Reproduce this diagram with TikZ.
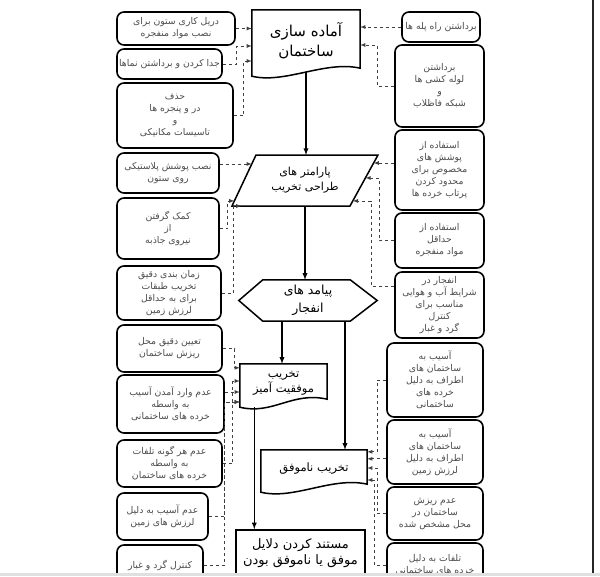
\documentclass[tikz,border=0pt]{standalone}
\usepackage{fontspec}
\usetikzlibrary{calc}
\newfontfamily\arabicfont[Script=Arabic]{DejaVu Sans}
\TeXXeTstate=1
\newcommand{\fa}[1]{\beginR #1\endR}
\newcommand{\docoutline}[1]{%
  \draw[frame] (#1.north west) -- (#1.north east) -- ([yshift=4]#1.south east)
    .. controls ([xshift=-35,yshift=12]#1.south east) and ([xshift=33,yshift=-12]#1.south west)
    .. ([yshift=-4]#1.south west) -- cycle;}
\tikzset{
  frame/.style={line width=1.5pt},
  box/.style={draw, line width=1.6pt, rounded corners=7pt, align=center, text=black!70,
    inner sep=1pt, font=\arabicfont\fontsize{9.3}{12}\selectfont},
  title/.style={align=center, inner sep=1pt, font=\arabicfont\fontsize{11}{15}\selectfont},
  flow/.style={->, line width=1.3pt},
  dep/.style={->, dashed, line width=0.8pt, black!75}
}

\begin{document}
\begin{tikzpicture}[x=1pt,y=-1pt,>=latex]
\useasboundingbox (0,0) rectangle (600,576);
\begin{scope}
\clip (0,0) rectangle (600,573);
% left column
\node[box, minimum width=118, minimum height=33] (L1) at (176,28.5) {\fa{دریل کاری ستون برای}\\\fa{نصب مواد منفجره}};
\node[box, minimum width=105, minimum height=30] (L2) at (169.5,64) {\fa{جدا کردن و برداشتن نماها}};
\node[box, minimum width=116, minimum height=65] (L3) at (175,115.5) {\fa{حذف}\\\fa{در و پنجره ها}\\\fa{و}\\\fa{تاسیسات مکانیکی}};
\node[box, minimum width=102, minimum height=40] (L4) at (168,173) {\fa{نصب پوشش پلاستیکی}\\\fa{روی ستون}};
\node[box, minimum width=102, minimum height=61] (L5) at (168,228.5) {\fa{کمک گرفتن}\\\fa{از}\\\fa{نیروی جاذبه}};
\node[box, minimum width=104, minimum height=54] (L6) at (169,293) {\fa{زمان بندی دقیق}\\\fa{تخریب طبقات}\\\fa{برای به حداقل}\\\fa{لرزش زمین}};
\node[box, minimum width=105, minimum height=47] (L7) at (169.5,348.5) {\fa{تعیین دقیق محل}\\\fa{ریزش ساختمان}};
\node[box, minimum width=107, minimum height=58] (L8) at (170.5,404) {\fa{عدم وارد آمدن آسیب}\\\fa{به واسطه}\\\fa{خرده های ساختمانی}};
\node[box, minimum width=105, minimum height=47] (L9) at (169.5,463.5) {\fa{عدم هر گونه تلفات}\\\fa{به واسطه}\\\fa{خرده های ساختمان}};
\node[box, minimum width=91, minimum height=47] (L10) at (162.5,516.5) {\fa{عدم آسیب به دلیل}\\\fa{لرزش های زمین}};
\node[box, minimum width=86, minimum height=40] (L11) at (160,565) {\fa{کنترل گرد و غبار}};
% right column
\node[box, minimum width=78, minimum height=30] (R1) at (441,27) {\fa{برداشتن راه پله ها}};
\node[box, minimum width=89, minimum height=82] (R2) at (439.5,86) {\fa{برداشتن}\\\fa{لوله کشی ها}\\\fa{و}\\\fa{شبکه فاظلاب}};
\node[box, minimum width=89, minimum height=80] (R3) at (439.5,170) {\fa{استفاده از}\\\fa{پوشش های}\\\fa{مخصوص برای}\\\fa{محدود کردن}\\\fa{پرتاب خرده ها}};
\node[box, minimum width=89, minimum height=55] (R4) at (439.5,240.5) {\fa{استفاده از}\\\fa{حداقل}\\\fa{مواد منفجره}};
\node[box, minimum width=89, minimum height=66] (R5) at (439.5,305) {\fa{انفجار در}\\\fa{شرایط آب و هوایی}\\\fa{مناسب برای}\\\fa{کنترل}\\\fa{گرد و غبار}};
\node[box, minimum width=96, minimum height=74] (R6) at (435,380) {\fa{آسیب به}\\\fa{ساختمان های}\\\fa{اطراف به دلیل}\\\fa{خرده های}\\\fa{ساختمانی}};
\node[box, minimum width=96, minimum height=64] (R7) at (435,452) {\fa{آسیب به}\\\fa{ساختمان های}\\\fa{اطراف به دلیل}\\\fa{لرزش زمین}};
\node[box, minimum width=96, minimum height=53] (R8) at (435,513.5) {\fa{عدم ریزش}\\\fa{ساختمان در}\\\fa{محل مشخص شده}};
\node[box, minimum width=96, minimum height=44] (R9) at (435,565) {\fa{تلفات به دلیل}\\\fa{خرده های ساختمانی}};
% middle column
\node[title, minimum width=108, minimum height=62, font=\arabicfont\fontsize{15}{20}\selectfont] (C1) at (306,41) {\fa{آماده سازی}\\\fa{ساختمان}};
\docoutline{C1}
\coordinate (c2tl) at (256,155);
\coordinate (c2tr) at (378,155);
\coordinate (c2br) at (350,206);
\coordinate (c2bl) at (232,206);
\draw[frame] (c2tl) -- (c2tr) -- (c2br) -- (c2bl) -- cycle;
\node[title, minimum width=90, minimum height=51] (C2) at (305,180.5) {\fa{پارامتر های}\\\fa{طراحی تخریب}};
\node[title, minimum width=138, minimum height=41, font=\arabicfont\fontsize{12.5}{18}\selectfont] (C3) at (308,300.5) {\fa{پیامد های}\\\fa{انفجار}};
\draw[frame] (C3.west) -- ([xshift=24]C3.north west) -- ([xshift=-27]C3.north east) -- (C3.east)
  -- ([xshift=-27]C3.south east) -- ([xshift=24]C3.south west) -- cycle;
\node[title, minimum width=87, minimum height=39, font=\arabicfont\fontsize{11.5}{15}\selectfont] (C4) at (283.5,383.5) {\fa{تخریب}\\\fa{موفقیت آمیز}};
\docoutline{C4}
\node[title, minimum width=106, minimum height=38, font=\arabicfont\fontsize{11.5}{15}\selectfont] (C5) at (314,469) {\fa{تخریب ناموفق}};
\docoutline{C5}
\node[title, draw, frame, minimum width=129, minimum height=62, font=\arabicfont\fontsize{13}{16}\selectfont] (C6) at (300.5,561) {\fa{مستند کردن دلایل}\\\fa{موفق یا ناموفق بودن}\\\fa{تخریب}};
% entry points
\coordinate (c1b) at ([yshift=-5]C1.west);
\coordinate (c1c) at ([yshift=-20]C1.west);
\coordinate (c1e) at ([yshift=-4]C1.east);
\coordinate (c2l1) at ($(c2tl)!0.176!(c2bl)$);
\coordinate (c2l2) at ($(c2tl)!0.9!(c2bl)$);
\coordinate (c2b1) at ($(c2bl)!0.08!(c2br)$);
\coordinate (c2r1) at ($(c2tr)!0.157!(c2br)$);
\coordinate (c2r2) at ($(c2tr)!0.45!(c2br)$);
\coordinate (c2r3) at ($(c2tr)!0.9!(c2br)$);
\coordinate (c3l) at ([xshift=-26]C3.south);
\coordinate (c3r) at ([xshift=37]C3.south);
\coordinate (c4a) at ([yshift=-4]C4.north west);
\coordinate (c4b) at ([yshift=2.5]C4.west);
\coordinate (c4c) at ([yshift=-8.5]C4.west);
\coordinate (c4d) at ([yshift=-18.5]C4.west);
\coordinate (c4o) at ([xshift=14.5,yshift=-3.8]C4.south west);
\coordinate (c5a) at ([yshift=-2]C5.north east);
\coordinate (c5b) at ([yshift=-9]C5.north east);
\coordinate (c5c) at ([yshift=1]C5.east);
\coordinate (c5d) at ([yshift=-11]C5.east);
% main flow
\draw[flow] (C1.south) -- (C1.south |- c2tl);
\draw[flow] (C2.south) -- (C2.south |- C3.north);
\draw[flow] (c3l) -- (c3l |- C4.north);
\draw[flow] (c3r) -- (c3r |- C5.north);
\draw[flow] (c4o) -- (c4o |- C6.north);
% dashed links
\draw[dep] (L1.east) -- (L1.east -| C1.west);
\draw[dep] (L2.east) -- ++(14,0) |- (c1b);
\draw[dep] (L3.east) -- ++(10,0) |- (c1c);
\draw[dep] (R1.west) -- (R1.west -| C1.east);
\draw[dep] (R2.west) -- ++(-17,0) |- (c1e);
\draw[dep] (L4.east |- c2l1) -- (c2l1);
\draw[dep] (L5.east) -- ++(8,0) |- (c2l2);
\draw[dep] (L6.east) -- ++(12,0) |- (c2b1);
\draw[dep] (R3.west |- c2r1) -- (c2r1);
\draw[dep] (R4.west) -- ++(-15,0) |- (c2r2);
\draw[dep] ([yshift=19]R5.west) -- ++(-23,0) |- (c2r3);
\draw[dep] (L7.east) -- ++(12,0) |- (c4a);
\draw[dep] (L8.east |- c4c) -- (c4c);
\draw[dep] (L9.east) -- ++(10,0) |- (c4b);
\draw[dep] (L10.east) -- ++(16,0) |- (c4d);
\draw[dep] (L11.east) -- ++(21,0) |- (c4d);
\draw[dep] (R6.west) -- ++(-9,0) |- (c5a);
\draw[dep] (R7.west |- c5b) -- (c5b);
\draw[dep] (R8.west) -- ++(-9,0) |- (c5c);
\draw[dep] (R9.west) -- ++(-12,0) |- (c5d);
\end{scope}
% page edge
\draw[line width=1.2pt, black!85] (593,0) -- (593,573);
\fill[black!12] (0,573) rectangle (600,576);
\end{tikzpicture}
\end{document}
